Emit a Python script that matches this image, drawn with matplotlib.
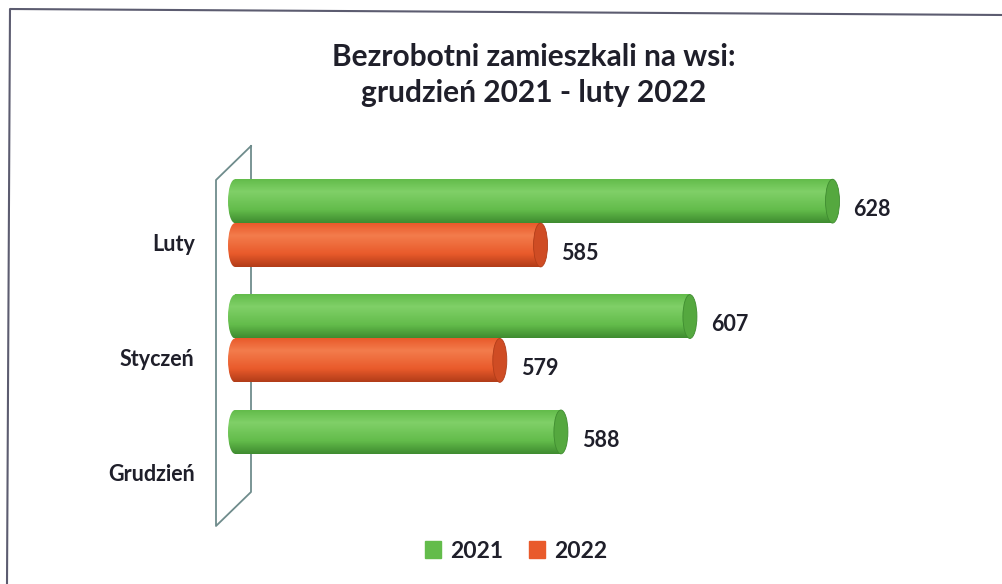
import numpy as np
import matplotlib.pyplot as plt
from matplotlib.patches import Ellipse, Patch
from matplotlib.lines import Line2D
from matplotlib.colors import LinearSegmentedColormap

plt.rcParams['font.family'] = ['Lato', 'DejaVu Sans']

# data (bottom to top)
months = ['Grudzień', 'Styczeń', 'Luty']
years = ['2021', '2022']
v2021 = np.array([588, 607, 628])
v2022 = np.array([np.nan, 579, 585])

title = 'Bezrobotni zamieszkali na wsi:\ngrudzień 2021 - luty 2022'

# colours
green = dict(body='#63bc4b', light='#80d068', dark='#3f8c30', cap='#55a83f')
orange = dict(body='#e95a2b', light='#f37c4c', dark='#b23d19', cap='#cf4c24')
ink = '#1f1f2a'

W, H = 1003, 584
fig = plt.figure(figsize=(W / 100, H / 100), dpi=100)


def fx(px):
    return px / W


def fy(py):
    return 1 - py / H


base = 540
bar_h = 0.38
off = 0.19
cap_w = 2.06
px_per_unit = 6.79

ax = fig.add_axes([fx(228), fy(530), (652 - base + cap_w / 2) * px_per_unit / W, 390 / H])
ax.patch.set_visible(False)
for s in ax.spines.values():
    s.set_visible(False)

pos = np.arange(len(months))


def cylinders(ys, vals, c):
    ok = ~np.isnan(vals)
    bars = ax.barh(ys[ok], vals[ok] - base, left=base, height=bar_h,
                   color=c['body'], zorder=3)
    cmap = LinearSegmentedColormap.from_list(
        'cyl', [(0, c['dark']), (0.3, c['body']), (0.72, c['light']), (1, c['body'])])
    grad = np.linspace(0, 1, 64).reshape(-1, 1)
    for b in bars:
        x0, y0 = b.get_x(), b.get_y()
        w, h = b.get_width(), b.get_height()
        # rounded back end, shaded like the body
        back = Ellipse((x0, y0 + h / 2), cap_w, h, fill=False, lw=0)
        ax.add_patch(back)
        im = ax.imshow(grad, extent=[x0 - cap_w / 2, x0, y0, y0 + h], origin='lower',
                       aspect='auto', cmap=cmap, zorder=3.1)
        im.set_clip_path(back)
        ax.imshow(grad, extent=[x0, x0 + w, y0, y0 + h], origin='lower',
                  aspect='auto', cmap=cmap, zorder=3.1)
        ax.add_patch(Ellipse((x0 + w, y0 + h / 2), cap_w, h, facecolor=c['cap'],
                             edgecolor=c['dark'], lw=0.6, zorder=3.2))
    for y, v in zip(ys[ok], vals[ok]):
        ax.annotate(f'{v:.0f}', (v, y), xytext=(15, -6), textcoords='offset points',
                    ha='left', va='center', fontsize=15.5, fontweight='bold',
                    color=ink)


cylinders(pos + off, v2021.astype(float), green)
cylinders(pos - off, v2022, orange)

ax.set_xlim(base - cap_w / 2, 652)
ax.set_ylim(-0.66, 2.72)
ax.set_xticks([])
ax.set_yticks(pos - 0.165, months)
ax.tick_params(axis='y', length=0, pad=24, labelsize=15.5, labelcolor=ink)
for t in ax.get_yticklabels():
    t.set_fontweight('bold')

# 3D wall behind the bars
wall_x = [251, 216, 216, 251, 251]
wall_y = [146, 180, 526, 492, 146]
fig.add_artist(Line2D([fx(x) for x in wall_x], [fy(y) for y in wall_y],
                      color='#6f8c8c', lw=1.3, zorder=-1))

# chart frame
fig.add_artist(Line2D([fx(7), fx(10), fx(1003)], [fy(584), fy(9), fy(15)],
                      color='#5c5c70', lw=1.5, zorder=-1))

fig.text(fx(534), fy(75), title, ha='center', va='center', fontsize=21.5,
         fontweight='bold', linespacing=1.35, color=ink)

handles = [Patch(color=green['body']), Patch(color=orange['body'])]
fig.legend(handles, years, loc='center', bbox_to_anchor=(fx(516), fy(551)),
           ncol=2, frameon=False, prop=dict(weight='bold', size=16.5),
           handlelength=0.7, handleheight=0.7, handletextpad=0.4,
           columnspacing=1.1, labelcolor=ink)

fig.savefig('out.png', dpi=100, facecolor='white')
